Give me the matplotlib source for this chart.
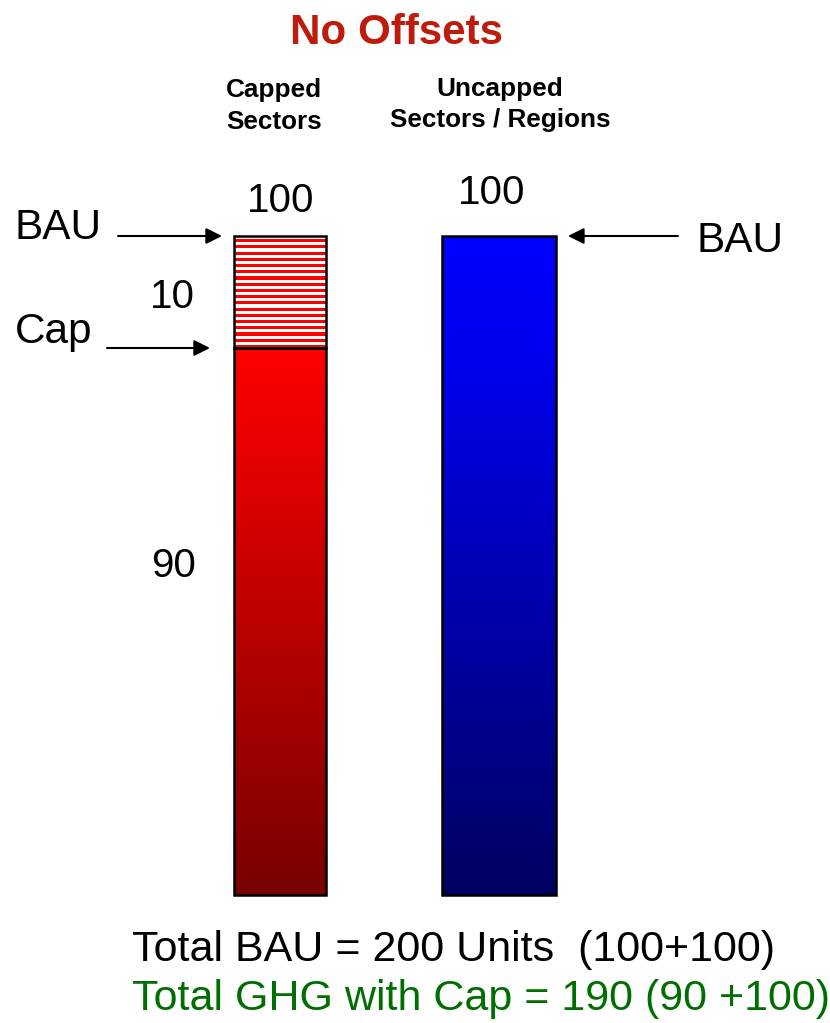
import numpy as np
import matplotlib
matplotlib.use("Agg")
import matplotlib.pyplot as plt
from matplotlib.colors import LinearSegmentedColormap, ListedColormap

plt.rcParams['font.family'] = ['Liberation Sans', 'DejaVu Sans']

# data
groups = ["Capped\nSectors", "Uncapped\nSectors / Regions"]
bau = [100, 100]
capped_emitted = 90
capped_cut = 10
bar_widths = [0.42, 0.52]
title = "No Offsets"
total_line1 = "Total BAU = 200 Units  (100+100)"
total_line2 = "Total GHG with Cap = 190 (90 +100)"

W, H = 830, 1023
fig = plt.figure(figsize=(W / 100, H / 100), dpi=100)
ax = fig.add_axes([0, 0, 1, 1])

# the slide does not draw the cut to scale: 0-90 gets 547 px, 90-100 gets 112 px
lo_k = 547 / 90
hi_k = 112 / 10


def fwd(y):
    y = np.asarray(y, dtype=float)
    return np.where(y <= 90, y * lo_k, 547 + (y - 90) * hi_k)


def inv(v):
    v = np.asarray(v, dtype=float)
    return np.where(v <= 547, v / lo_k, 90 + (v - 547) / hi_k)


ax.set_yscale('function', functions=(fwd, inv))
unit_px = 219
ax.set_xlim(-280 / unit_px, (W - 280) / unit_px)
ax.set_ylim(float(inv(-(H - 895))), float(inv(895)))
ax.axis('off')

xs = np.arange(len(groups))

# gradient fills
red_cmap = LinearSegmentedColormap.from_list("r", ["#780000", "#ff0000"])
blue_cmap = LinearSegmentedColormap.from_list("b", ["#000060", "#0000ff"])

w0 = bar_widths[0]
yy = np.linspace(0, capped_emitted, 120)
C = ((yy[:-1] + yy[1:]) / 2 / capped_emitted).reshape(-1, 1)
ax.pcolormesh([xs[0] - w0 / 2, xs[0] + w0 / 2], yy, C, cmap=red_cmap,
              vmin=0, vmax=1, shading='flat')

w1 = bar_widths[1]
yy = np.linspace(0, bau[1], 120)
C = ((yy[:-1] + yy[1:]) / 2 / bau[1]).reshape(-1, 1)
ax.pcolormesh([xs[1] - w1 / 2, xs[1] + w1 / 2], yy, C, cmap=blue_cmap,
              vmin=0, vmax=1, shading='flat')

# striped part = reduction under the cap
n_stripes = 36
ys = np.linspace(capped_emitted, capped_emitted + capped_cut, n_stripes + 1)
S = (np.arange(n_stripes) % 2).reshape(-1, 1)
ax.pcolormesh([xs[0] - w0 / 2, xs[0] + w0 / 2], ys, S,
              cmap=ListedColormap(["#ff0000", "#ffffff"]), shading='flat')

# outlines
ax.bar(xs[0], capped_emitted, width=w0, fill=False, edgecolor='black', lw=1.8)
ax.bar(xs[0], capped_cut, bottom=capped_emitted, width=w0, fill=False,
       edgecolor='black', lw=1.8)
ax.bar(xs[1], bau[1], width=w1, fill=False, edgecolor='black', lw=1.8)


def px(x, y_top):
    return x / W, 1 - y_top / H


fs_num = 29
fs_word = 30.5
# headings
fig.text(*px(396, 44), title, ha='center', va='baseline', fontsize=30.3,
         fontweight='bold', color='#be1b0c')
for i, (cx, b1, b2) in enumerate([(274, 97, 129), (500, 96, 127)]):
    l1, l2 = groups[i].split("\n")
    fig.text(*px(cx, b1), l1, ha='center', va='baseline', fontsize=18.8,
             fontweight='bold')
    fig.text(*px(cx, b2), l2, ha='center', va='baseline', fontsize=18.8,
             fontweight='bold')

# value labels
fig.text(*px(281, 212), str(bau[0]), ha='center', va='baseline', fontsize=fs_num)
fig.text(*px(492, 204), str(bau[1]), ha='center', va='baseline', fontsize=fs_num)
fig.text(*px(172, 308), str(capped_cut), ha='center', va='baseline', fontsize=fs_num)
fig.text(*px(174, 577), str(capped_emitted), ha='center', va='baseline',
         fontsize=fs_num)

# BAU / Cap labels with arrows
fig.text(*px(15, 239), "BAU", ha='left', va='baseline', fontsize=fs_word)
fig.text(*px(15, 343), "Cap", ha='left', va='baseline', fontsize=fs_word)
fig.text(*px(696, 252), "BAU", ha='left', va='baseline', fontsize=fs_word)

arrow = dict(arrowstyle='-|>', lw=1.5, color='black', mutation_scale=24,
             shrinkA=0, shrinkB=0)
gap = 12 / unit_px
tc = ('figure pixels', 'data')
ax.annotate('', xy=(xs[0] - w0 / 2 - gap, bau[0]), xytext=(118, bau[0]),
            textcoords=tc, arrowprops=arrow)
ax.annotate('', xy=(xs[0] - w0 / 2 - 2 * gap, capped_emitted),
            xytext=(107, capped_emitted), textcoords=tc, arrowprops=arrow)
ax.annotate('', xy=(xs[1] + w1 / 2 + gap, bau[1]), xytext=(678, bau[1]),
            textcoords=tc, arrowprops=arrow)

# totals
fig.text(*px(132, 961), total_line1, ha='left', va='baseline', fontsize=31)
fig.text(*px(132, 1010), total_line2, ha='left', va='baseline', fontsize=31,
         color='#006e00')

fig.savefig("out.png", dpi=100)
